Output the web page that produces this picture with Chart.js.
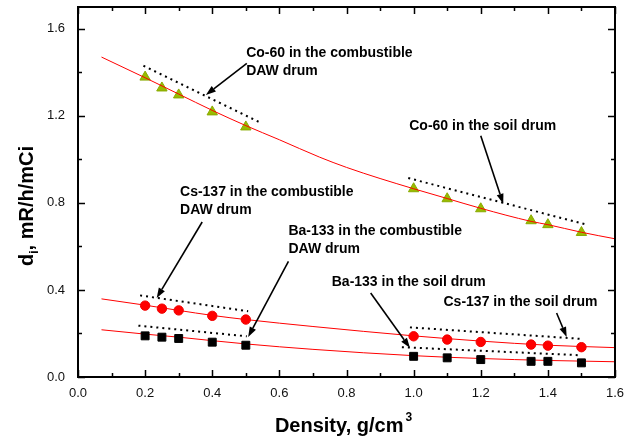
<!DOCTYPE html>
<html>
<head>
<meta charset="utf-8">
<script src="https://cdn.jsdelivr.net/npm/chart.js@4.4.0/dist/chart.umd.min.js"></script>
<style>
  html, body { margin: 0; padding: 0; background: #fff; }
  #wrap { width: 632px; height: 439px; }
</style>
</head>
<body>
<div id="wrap"><canvas id="chart" width="632" height="439"></canvas></div>
<script>
// ---- measured points ----
const combDensity = [0.2, 0.25, 0.3, 0.4, 0.5];
const soilDensity = [1.0, 1.1, 1.2, 1.35, 1.4, 1.5];

const co60Comb  = [1.378, 1.328, 1.296, 1.218, 1.149];
const co60Soil  = [0.865, 0.819, 0.773, 0.718, 0.700, 0.664];
const cs137Comb = [0.328, 0.314, 0.306, 0.281, 0.264];
const cs137Soil = [0.187, 0.172, 0.161, 0.149, 0.144, 0.137];
const ba133Comb = [0.189, 0.183, 0.177, 0.160, 0.146];
const ba133Soil = [0.095, 0.088, 0.080, 0.072, 0.072, 0.065];

// ---- fitted curves ----
const co60FitX  = [0.07, 0.2, 0.3, 0.4, 0.5, 0.6, 0.72, 0.8, 0.9, 1.0, 1.1, 1.2, 1.35, 1.4, 1.5, 1.6];
const co60FitY  = [1.47, 1.375, 1.30, 1.225, 1.155, 1.09, 1.01, 0.963, 0.912, 0.865, 0.82, 0.775, 0.715, 0.70, 0.665, 0.635];
const cs137FitX = [0.07, 0.2, 0.3, 0.4, 0.5, 0.7, 1.0, 1.2, 1.4, 1.6];
const cs137FitY = [0.359, 0.33, 0.306, 0.283, 0.264, 0.232, 0.189, 0.165, 0.146, 0.135];
const ba133FitX = [0.07, 0.2, 0.3, 0.4, 0.5, 0.7, 1.0, 1.2, 1.4, 1.6];
const ba133FitY = [0.217, 0.197, 0.183, 0.167, 0.152, 0.127, 0.098, 0.085, 0.076, 0.070];

// ---- dotted guide lines [x, y] ----
const guideCo60Comb  = [[0.195, 1.430], [0.383, 1.289], [0.547, 1.166]];
const guideCo60Soil  = [[0.984, 0.914], [1.516, 0.700]];
const guideCs137Comb = [[0.185, 0.375], [0.507, 0.302]];
const guideBa133Comb = [[0.180, 0.236], [0.503, 0.187]];
const guideCs137Soil = [[0.989, 0.228], [1.501, 0.175]];
const guideBa133Soil = [[0.965, 0.137], [1.496, 0.100]];

// ---- ticks ----
const xTickLabels = [0.0, 0.2, 0.4, 0.6, 0.8, 1.0, 1.2, 1.4, 1.6];
const xTickMinor  = [0.1, 0.3, 0.5, 0.7, 0.9, 1.1, 1.3, 1.5];
const yTickLabels = [0.0, 0.4, 0.8, 1.2, 1.6];
const yTickMinor  = [0.2, 0.6, 1.0, 1.4];

// ---- annotations: text lines, anchor (data), arrow from -> to (data) ----
const notes = [
  { lines: ['Co-60 in the combustible', 'DAW drum'], at: [0.501, 1.488], arrow: [[0.503, 1.441], [0.381, 1.296]] },
  { lines: ['Co-60 in the soil drum'],               at: [0.987, 1.154], arrow: [[1.200, 1.108], [1.267, 0.796]] },
  { lines: ['Cs-137 in the combustible', 'DAW drum'], at: [0.304, 0.851], arrow: [[0.370, 0.712], [0.2345, 0.363]] },
  { lines: ['Ba-133 in the combustible', 'DAW drum'], at: [0.627, 0.669], arrow: [[0.627, 0.531], [0.507, 0.184]] },
  { lines: ['Ba-133 in the soil drum'],               at: [0.756, 0.435], arrow: [[0.872, 0.386], [0.989, 0.134]] },
  { lines: ['Cs-137 in the soil drum'],               at: [1.089, 0.345], arrow: [[1.426, 0.294], [1.456, 0.184]] },
];

const FONT = '"Liberation Sans", Arial, sans-serif';

const pts  = (xs, ys) => xs.map((x, i) => ({ x, y: ys[i] }));
const pair = arr => arr.map(p => ({ x: p[0], y: p[1] }));

const squares = data => ({ type: 'scatter', data, pointStyle: 'rect', pointRadius: 5.6,
  backgroundColor: '#000', borderColor: '#000', borderWidth: 1 });
const circles = data => ({ type: 'scatter', data, pointStyle: 'circle', pointRadius: 4.7,
  backgroundColor: '#ff0000', borderColor: '#f00000', borderWidth: 1 });
const triangles = data => ({ type: 'scatter', data, pointStyle: 'triangle', pointRadius: 6,
  backgroundColor: '#99bb00', borderColor: '#88aa00', borderWidth: 1 });
const fit = data => ({ type: 'line', data, borderColor: '#ff0000', borderWidth: 1, pointRadius: 0,
  cubicInterpolationMode: 'monotone', fill: false });
const guide = data => ({ type: 'line', data, borderColor: '#000', borderWidth: 2, borderDash: [2, 4],
  pointRadius: 0, tension: 0, fill: false });

const frameAndNotes = {
  id: 'frameAndNotes',
  afterDraw(chart) {
    const { ctx, chartArea: a, scales: { x, y } } = chart;
    ctx.save();

    // frame
    ctx.strokeStyle = '#000';
    ctx.lineWidth = 2;
    ctx.strokeRect(a.left, a.top, a.right - a.left, a.bottom - a.top);

    // inward ticks on all four sides
    ctx.lineWidth = 1.5;
    ctx.beginPath();
    const xt = [...xTickLabels.map(v => [v, 7]), ...xTickMinor.map(v => [v, 4])];
    xt.forEach(([v, len]) => {
      const px = Math.round(x.getPixelForValue(v)) + 0.5;
      ctx.moveTo(px, a.bottom); ctx.lineTo(px, a.bottom - len);
      ctx.moveTo(px, a.top);    ctx.lineTo(px, a.top + len);
    });
    const yt = [...yTickLabels.map(v => [v, 7]), ...yTickMinor.map(v => [v, 4])];
    yt.forEach(([v, len]) => {
      const py = Math.round(y.getPixelForValue(v)) + 0.5;
      ctx.moveTo(a.left, py);  ctx.lineTo(a.left + len, py);
      ctx.moveTo(a.right, py); ctx.lineTo(a.right - len, py);
    });
    ctx.stroke();

    // annotation text + arrows
    ctx.fillStyle = '#000';
    ctx.font = 'bold 14px ' + FONT;
    ctx.textAlign = 'left';
    ctx.textBaseline = 'middle';
    notes.forEach(n => {
      const tx = x.getPixelForValue(n.at[0]);
      const ty = y.getPixelForValue(n.at[1]);
      n.lines.forEach((s, i) => ctx.fillText(s, tx, ty + i * 18));

      const x1 = x.getPixelForValue(n.arrow[0][0]), y1 = y.getPixelForValue(n.arrow[0][1]);
      const x2 = x.getPixelForValue(n.arrow[1][0]), y2 = y.getPixelForValue(n.arrow[1][1]);
      const ang = Math.atan2(y2 - y1, x2 - x1);
      const hl = 10, hw = 3.5;
      const bx = x2 - hl * Math.cos(ang), by = y2 - hl * Math.sin(ang);
      ctx.lineWidth = 1.6;
      ctx.beginPath();
      ctx.moveTo(x1, y1); ctx.lineTo(bx, by);
      ctx.stroke();
      ctx.beginPath();
      ctx.moveTo(x2, y2);
      ctx.lineTo(bx + hw * Math.sin(ang), by - hw * Math.cos(ang));
      ctx.lineTo(bx - hw * Math.sin(ang), by + hw * Math.cos(ang));
      ctx.closePath();
      ctx.fill();
    });

    // x axis title with superscript
    ctx.textBaseline = 'alphabetic';
    ctx.font = 'bold 20px ' + FONT;
    const xt1 = 'Density, g/cm';
    const w1 = ctx.measureText(xt1).width;
    ctx.font = 'bold 12px ' + FONT;
    const w3 = ctx.measureText('3').width;
    const sx = (a.left + a.right) / 2 - (w1 + w3) / 2 - 4;
    ctx.font = 'bold 20px ' + FONT;
    ctx.fillText(xt1, sx, 432);
    ctx.font = 'bold 12px ' + FONT;
    ctx.fillText('3', sx + w1 + 2, 421);

    // y axis title with subscript, rotated
    ctx.translate(33, 206);
    ctx.rotate(-Math.PI / 2);
    ctx.font = 'bold 20px ' + FONT;
    const wd = ctx.measureText('d').width;
    const rest = ', mR/h/mCi';
    const wr = ctx.measureText(rest).width;
    ctx.font = 'bold 12px ' + FONT;
    const wi = ctx.measureText('i').width;
    const start = -(wd + wi + wr) / 2;
    ctx.font = 'bold 20px ' + FONT;
    ctx.fillText('d', start, 0);
    ctx.font = 'bold 12px ' + FONT;
    ctx.fillText('i', start + wd, 5);
    ctx.font = 'bold 20px ' + FONT;
    ctx.fillText(rest, start + wd + wi, 0);

    ctx.restore();
  }
};

new Chart(document.getElementById('chart'), {
  data: {
    datasets: [
      squares(pts(combDensity, ba133Comb)),
      squares(pts(soilDensity, ba133Soil)),
      circles(pts(combDensity, cs137Comb)),
      circles(pts(soilDensity, cs137Soil)),
      fit(pts(co60FitX, co60FitY)),
      fit(pts(cs137FitX, cs137FitY)),
      fit(pts(ba133FitX, ba133FitY)),
      triangles(pts(combDensity, co60Comb)),
      triangles(pts(soilDensity, co60Soil)),
      guide(pair(guideCo60Comb)),
      guide(pair(guideCo60Soil)),
      guide(pair(guideCs137Comb)),
      guide(pair(guideBa133Comb)),
      guide(pair(guideCs137Soil)),
      guide(pair(guideBa133Soil)),
    ],
  },
  options: {
    responsive: false,
    animation: false,
    layout: { padding: { top: 6, right: 17, left: 0, bottom: 0 } },
    plugins: { legend: { display: false }, tooltip: { enabled: false } },
    scales: {
      x: {
        type: 'linear', min: 0, max: 1.6,
        grid: { display: false, drawTicks: false },
        border: { display: false },
        afterBuildTicks: s => { s.ticks = xTickLabels.map(v => ({ value: v })); },
        afterFit: s => { s.height = 62; s.paddingLeft = 0; s.paddingRight = 0; },
        ticks: { padding: 9, color: '#111', font: { family: FONT, size: 13 }, callback: v => v.toFixed(1) },
      },
      y: {
        type: 'linear', min: 0, max: 1.7,
        grid: { display: false, drawTicks: false },
        border: { display: false },
        afterBuildTicks: s => { s.ticks = yTickLabels.map(v => ({ value: v })); },
        afterFit: s => { s.width = 78; s.paddingTop = 0; s.paddingBottom = 0; },
        ticks: { padding: 13, color: '#111', font: { family: FONT, size: 13 }, callback: v => v.toFixed(1) },
      },
    },
  },
  plugins: [frameAndNotes],
});
</script>
</body>
</html>
